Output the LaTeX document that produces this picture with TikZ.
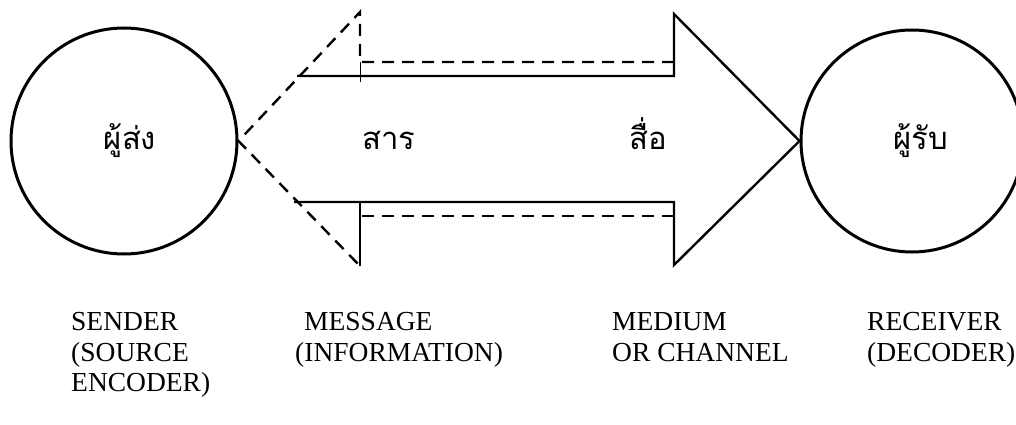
\documentclass[tikz,border=0pt]{standalone}
\usepackage{fontspec}
\setmainfont{Liberation Serif}
\newfontfamily\thai[Script=Thai]{Loma}
\begin{document}
\begin{tikzpicture}[x=1pt,y=-1pt,
  circ/.style={draw, circle, line width=3pt, inner sep=0pt},
  thaitext/.style={font=\thai\fontsize{31}{36}\selectfont, inner sep=0pt, anchor=base},
  lbl/.style={font=\fontsize{27.5}{30}\selectfont, inner sep=0pt, anchor=base west},
  solidline/.style={line width=2.4pt, line join=miter},
  dashline/.style={line width=2.4pt, dash pattern=on 12pt off 8pt}]
\clip (0,0) rectangle (1016,425);
\fill[white] (0,0) rectangle (1016,425);

% circles
\node[circ, minimum size=226pt] (sender) at (124,141) {};
\node[circ, minimum size=222pt] (receiver) at (912,141) {};

% Thai labels
\node[thaitext] (tsender) at (130,149) {ผู้ส่ง};
\node[thaitext] (tmsg) at (389,149) {สาร};
\node[thaitext] (tmed) at (648,149) {สื่อ};
\node[thaitext] (trecv) at (921,149) {ผู้รับ};

% dashed (left-pointing) arrow
\coordinate (dtip) at (sender.east);
\coordinate (dht) at (360,12);
\coordinate (dhb) at (360,266);
\coordinate (dst) at (360,62);
\coordinate (dsb) at (360,216);
\coordinate (dset) at (674,62);
\coordinate (dseb) at (674,216);
\draw[dashline] (dset) -- (dst) -- (dht) -- (dtip) -- (dhb);
\draw[dashline] (dseb) -- (dsb);
\draw[solidline] (360,202) -- (dhb);
\draw[line width=0.8pt] (dst) -- (360,82);

% solid (right-pointing) arrow
\coordinate (stl) at (297,76);
\coordinate (sbl) at (294,202);
\coordinate (str) at (674,76);
\coordinate (sbr) at (674,202);
\coordinate (sht) at (674,14);
\coordinate (shb) at (674,265);
\draw[solidline] (stl) -- (str) -- (sht) -- (receiver.west) -- (shb) -- (sbr) -- (sbl);

% English labels
\node[lbl] (l1a) at (71,330) {SENDER};
\node[lbl] (l1b) at (71,361) {(SOURCE};
\node[lbl] (l1c) at (71,391) {ENCODER)};
\node[lbl] (l2a) at (304,330) {MESSAGE};
\node[lbl] (l2b) at (295,361) {(INFORMATION)};
\node[lbl] (l3a) at (612,330) {MEDIUM};
\node[lbl] (l3b) at (612,361) {OR CHANNEL};
\node[lbl] (l4a) at (867,330) {RECEIVER};
\node[lbl] (l4b) at (867,361) {(DECODER)};
\end{tikzpicture}
\end{document}
